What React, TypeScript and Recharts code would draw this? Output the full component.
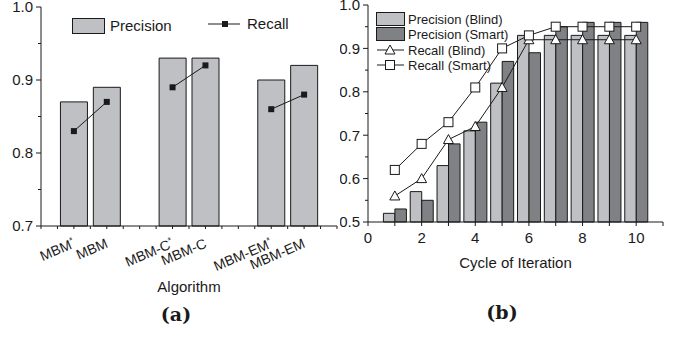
import React from 'react'
import { ComposedChart, Bar, Line, XAxis, YAxis, Legend } from 'recharts'

// (a) algorithm comparison
const algorithms = ['MBM*', 'MBM', 'MBM-C*', 'MBM-C', 'MBM-EM*', 'MBM-EM']
const algoPositions = [1, 2, 4, 5, 7, 8]
const algoPrecision = [0.87, 0.89, 0.93, 0.93, 0.9, 0.92]
const algoRecall = [0.83, 0.87, 0.89, 0.92, 0.86, 0.88]
const algoXTicks = [0, 0.5, 1, 1.5, 2, 2.5, 3, 3.5, 4, 4.5, 5, 5.5, 6, 6.5, 7, 7.5, 8, 8.5, 9]
const algoYTicks = [0.7, 0.75, 0.8, 0.85, 0.9, 0.95, 1.0]

// (b) cycles of iteration
const cycles = [1, 2, 3, 4, 5, 6, 7, 8, 9, 10]
const precisionBlind = [0.52, 0.57, 0.63, 0.71, 0.82, 0.93, 0.93, 0.93, 0.93, 0.93]
const precisionSmart = [0.53, 0.55, 0.68, 0.73, 0.87, 0.89, 0.95, 0.96, 0.96, 0.96]
const recallBlind = [0.56, 0.6, 0.69, 0.72, 0.81, 0.92, 0.92, 0.92, 0.92, 0.92]
const recallSmart = [0.62, 0.68, 0.73, 0.81, 0.9, 0.93, 0.95, 0.95, 0.95, 0.95]
const cycleXTicks = [0, 1, 2, 3, 4, 5, 6, 7, 8, 9, 10, 11]
const cycleYTicks = [0.5, 0.55, 0.6, 0.65, 0.7, 0.75, 0.8, 0.85, 0.9, 0.95, 1.0]

const FONT = '"Liberation Sans", Arial, sans-serif'
const INK = '#1a1a1a'
const LIGHT = '#bfc0c4'
const DARK = '#808185'

const algoData = algorithms.map((name, i) => {
  const pair = Math.floor(i / 2)
  return {
    x: algoPositions[i],
    name,
    precision: algoPrecision[i],
    recallA: pair === 0 ? algoRecall[i] : null,
    recallB: pair === 1 ? algoRecall[i] : null,
    recallC: pair === 2 ? algoRecall[i] : null,
  }
})

const cycleData = cycles.map((c, i) => ({
  x: c,
  pBlind: precisionBlind[i],
  pSmart: precisionSmart[i],
  rBlind: recallBlind[i],
  rSmart: recallSmart[i],
}))

const isMajor = (v: number) => Math.round(v * 100) % 10 === 0

function LeftYTick({ x, y, payload }: any) {
  const major = isMajor(payload.value)
  return (
    <g>
      <line x1={x - (major ? 5 : 3)} y1={y} x2={x} y2={y} stroke={INK} />
      {major && (
        <text x={x - 8} y={y} dy="0.36em" textAnchor="end" fontSize={15} fill={INK} fontFamily={FONT}>
          {payload.value.toFixed(1)}
        </text>
      )}
    </g>
  )
}

function RightYTick({ x, y, payload }: any) {
  const major = isMajor(payload.value)
  return <line x1={x - (major ? 5 : 3)} y1={y} x2={x} y2={y} stroke={INK} />
}

function AlgoTick({ x, y, payload }: any) {
  const idx = algoPositions.indexOf(payload.value)
  const name = idx >= 0 ? algorithms[idx] : ''
  const star = name.endsWith('*')
  const base = star ? name.slice(0, -1) : name
  const px = x + 2
  const py = y + 21
  return (
    <g>
      <line x1={x} y1={y} x2={x} y2={y + 3} stroke={INK} />
      {idx >= 0 && (
        <text
          x={px}
          y={py}
          transform={`rotate(-23 ${px} ${py})`}
          textAnchor="end"
          fontSize={14}
          fill={INK}
          fontFamily={FONT}
        >
          {base}
          {star && (
            <tspan fontSize={9} dy={-5}>
              *
            </tspan>
          )}
        </text>
      )}
    </g>
  )
}

function CycleTick({ x, y, payload }: any) {
  const v = payload.value
  return (
    <g>
      <line x1={x} y1={y} x2={x} y2={y + 4} stroke={INK} />
      {v % 2 === 0 && v <= 10 && (
        <text x={x} y={y + 21} textAnchor="middle" fontSize={15} fill={INK} fontFamily={FONT}>
          {v}
        </text>
      )}
    </g>
  )
}

function FilledSquare({ cx, cy }: any) {
  if (cx == null || cy == null) return null
  return <rect x={cx - 3} y={cy - 3} width={6} height={6} fill={INK} />
}

function HollowTriangle({ cx, cy }: any) {
  if (cx == null || cy == null) return null
  return (
    <polygon
      points={`${cx},${cy - 5} ${cx - 5},${cy + 4} ${cx + 5},${cy + 4}`}
      fill="#fff"
      stroke={INK}
      strokeWidth={1}
    />
  )
}

function HollowSquare({ cx, cy }: any) {
  if (cx == null || cy == null) return null
  return <rect x={cx - 4.5} y={cy - 4.5} width={9} height={9} fill="#fff" stroke={INK} strokeWidth={1} />
}

function AlgoLegend() {
  return (
    <svg width={340} height={40} style={{ display: 'block' }}>
      <rect x={72.5} y={18.5} width={32} height={15} fill={LIGHT} stroke={INK} />
      <text x={110} y={26} dy="0.36em" fontSize={15} fill={INK} fontFamily={FONT}>
        Precision
      </text>
      <line x1={208} y1={24} x2={240} y2={24} stroke={INK} />
      <FilledSquare cx={225} cy={24} />
      <text x={247} y={24} dy="0.36em" fontSize={15} fill={INK} fontFamily={FONT}>
        Recall
      </text>
    </svg>
  )
}

function CycleLegend() {
  const tx = 68
  return (
    <svg width={200} height={80} style={{ display: 'block' }}>
      <rect x={36.5} y={12.5} width={28} height={13} fill={LIGHT} stroke={INK} />
      <text x={tx} y={19} dy="0.36em" fontSize={13} fill={INK} fontFamily={FONT}>
        Precision (Blind)
      </text>
      <rect x={36.5} y={27.5} width={28} height={13} fill={DARK} stroke={INK} />
      <text x={tx} y={34} dy="0.36em" fontSize={13} fill={INK} fontFamily={FONT}>
        Precision (Smart)
      </text>
      <line x1={37} y1={50} x2={64} y2={50} stroke={INK} />
      <HollowTriangle cx={50} cy={50} />
      <text x={tx} y={50} dy="0.36em" fontSize={13} fill={INK} fontFamily={FONT}>
        Recall (Blind)
      </text>
      <line x1={37} y1={65} x2={64} y2={65} stroke={INK} />
      <HollowSquare cx={50} cy={65} />
      <text x={tx} y={65} dy="0.36em" fontSize={13} fill={INK} fontFamily={FONT}>
        Recall (Smart)
      </text>
    </svg>
  )
}

const captionStyle: React.CSSProperties = {
  position: 'absolute',
  fontFamily: '"DejaVu Serif", "Liberation Serif", serif',
  fontWeight: 'bold',
  fontSize: 19,
  color: INK,
  transform: 'translate(-50%, -50%)',
  whiteSpace: 'nowrap',
}

export default function App() {
  return (
    <div style={{ position: 'absolute', left: 0, top: 0, width: 678, height: 337, background: '#fff' }}>
      <div style={{ position: 'absolute', left: 0, top: 0 }}>
        <ComposedChart
          width={340}
          height={337}
          data={algoData}
          margin={{ top: 7, right: 3, left: 0, bottom: 41 }}
        >
          <XAxis
            dataKey="x"
            type="number"
            domain={[0, 9]}
            ticks={algoXTicks}
            interval={0}
            height={70}
            tick={<AlgoTick />}
            tickLine={false}
            tickSize={0}
            tickMargin={0}
            axisLine={{ stroke: INK }}
            label={{ value: 'Algorithm', position: 'insideBottom', offset: 4, fontSize: 15, fill: INK, fontFamily: FONT }}
          />
          <XAxis xAxisId="top" orientation="top" type="number" domain={[0, 9]} height={0} tick={false} tickLine={false} axisLine={{ stroke: INK }} />
          <YAxis
            type="number"
            domain={[0.7, 1.0]}
            ticks={algoYTicks}
            interval={0}
            width={41}
            tick={<LeftYTick />}
            tickLine={false}
            tickSize={0}
            tickMargin={0}
            axisLine={{ stroke: INK }}
          />
          <YAxis yAxisId="r" orientation="right" type="number" domain={[0.7, 1.0]} width={0} tick={false} tickLine={false} axisLine={{ stroke: INK }} />
          <Legend verticalAlign="middle" align="center" wrapperStyle={{ top: 0, left: 0, width: 340 }} content={<AlgoLegend />} />
          <Bar dataKey="precision" barSize={27} fill={LIGHT} stroke={INK} strokeWidth={1} isAnimationActive={false} />
          <Line dataKey="recallA" stroke={INK} strokeWidth={1} dot={<FilledSquare />} activeDot={false} isAnimationActive={false} />
          <Line dataKey="recallB" stroke={INK} strokeWidth={1} dot={<FilledSquare />} activeDot={false} isAnimationActive={false} />
          <Line dataKey="recallC" stroke={INK} strokeWidth={1} dot={<FilledSquare />} activeDot={false} isAnimationActive={false} />
        </ComposedChart>
      </div>

      <div style={{ position: 'absolute', left: 340, top: 0 }}>
        <ComposedChart
          width={338}
          height={337}
          data={cycleData}
          barGap={0}
          margin={{ top: 5, right: 15, left: 0, bottom: 65 }}
        >
          <XAxis
            dataKey="x"
            type="number"
            domain={[0, 11]}
            ticks={cycleXTicks}
            interval={0}
            height={50}
            tick={<CycleTick />}
            tickLine={false}
            tickSize={0}
            tickMargin={0}
            axisLine={{ stroke: INK }}
            label={{ value: 'Cycle of Iteration', position: 'insideBottom', offset: 4, fontSize: 15, fill: INK, fontFamily: FONT }}
          />
          <XAxis xAxisId="top" orientation="top" type="number" domain={[0, 11]} height={0} tick={false} tickLine={false} axisLine={{ stroke: INK }} />
          <YAxis
            type="number"
            domain={[0.5, 1.0]}
            ticks={cycleYTicks}
            interval={0}
            width={28}
            tick={<LeftYTick />}
            tickLine={false}
            tickSize={0}
            tickMargin={0}
            axisLine={{ stroke: INK }}
          />
          <YAxis
            yAxisId="r"
            orientation="right"
            type="number"
            domain={[0.5, 1.0]}
            ticks={cycleYTicks}
            interval={0}
            width={0}
            tick={<RightYTick />}
            tickLine={false}
            tickSize={0}
            tickMargin={0}
            axisLine={{ stroke: INK }}
          />
          <Legend verticalAlign="middle" align="center" wrapperStyle={{ top: 0, left: 0, width: 200 }} content={<CycleLegend />} />
          <Bar dataKey="pBlind" barSize={11.5} fill={LIGHT} stroke={INK} strokeWidth={1} isAnimationActive={false} />
          <Bar dataKey="pSmart" barSize={11.5} fill={DARK} stroke={INK} strokeWidth={1} isAnimationActive={false} />
          <Line dataKey="rBlind" stroke={INK} strokeWidth={1} dot={<HollowTriangle />} activeDot={false} isAnimationActive={false} />
          <Line dataKey="rSmart" stroke={INK} strokeWidth={1} dot={<HollowSquare />} activeDot={false} isAnimationActive={false} />
        </ComposedChart>
      </div>

      <div style={{ ...captionStyle, left: 176, top: 314 }}>(a)</div>
      <div style={{ ...captionStyle, left: 502, top: 312 }}>(b)</div>
    </div>
  )
}
